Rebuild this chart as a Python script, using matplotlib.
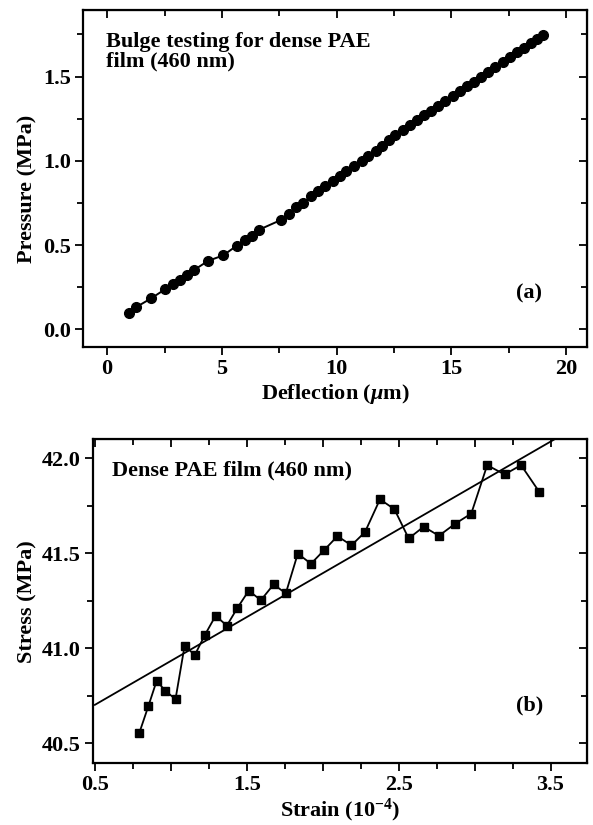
import matplotlib
matplotlib.use("Agg")
import matplotlib.pyplot as plt
from matplotlib.ticker import MultipleLocator, FuncFormatter

# Panel (a): bulge test, deflection (um) vs pressure (MPa)
deflection = [0.94, 1.27, 1.91, 2.53, 2.86, 3.18, 3.49, 3.80, 4.40, 5.05,
              5.66, 5.99, 6.33, 6.61, 7.58, 7.91, 8.23, 8.55, 8.88, 9.20,
              9.50, 9.82, 10.14, 10.42, 10.76, 11.09, 11.38, 11.70, 11.99, 12.30,
              12.56, 12.88, 13.19, 13.50, 13.80, 14.12, 14.42, 14.74, 15.05, 15.36,
              15.67, 15.98, 16.30, 16.61, 16.92, 17.24, 17.55, 17.86, 18.17, 18.45,
              18.74, 19.01]
pressure = [0.097, 0.133, 0.184, 0.239, 0.269, 0.295, 0.324, 0.354, 0.407, 0.439,
            0.498, 0.528, 0.557, 0.591, 0.650, 0.686, 0.725, 0.753, 0.790, 0.824,
            0.852, 0.883, 0.911, 0.941, 0.970, 1.000, 1.030, 1.059, 1.089, 1.122,
            1.152, 1.184, 1.212, 1.241, 1.270, 1.298, 1.326, 1.356, 1.384, 1.413,
            1.442, 1.470, 1.500, 1.528, 1.557, 1.586, 1.614, 1.644, 1.672, 1.698,
            1.724, 1.749]

# Panel (b): strain (1e-4) vs stress (MPa)
strain = [0.793, 0.853, 0.907, 0.962, 1.031, 1.091, 1.158, 1.225, 1.295, 1.369,
          1.439, 1.513, 1.593, 1.677, 1.757, 1.836, 1.923, 2.010, 2.097, 2.189,
          2.278, 2.377, 2.472, 2.566, 2.665, 2.765, 2.869, 2.978, 3.083, 3.197,
          3.306, 3.425]
stress = [40.555, 40.697, 40.829, 40.777, 40.732, 41.014, 40.964, 41.071, 41.171, 41.119,
          41.213, 41.303, 41.253, 41.336, 41.289, 41.498, 41.445, 41.517, 41.590, 41.542,
          41.611, 41.784, 41.732, 41.578, 41.640, 41.592, 41.654, 41.709, 41.964, 41.915,
          41.964, 41.824]
fit_slope = 0.462
fit_intercept = 40.471
fit_range = [0.5, 3.6]

serif = "Liberation Serif"
plt.rcParams["font.family"] = serif
plt.rcParams["font.weight"] = "bold"
plt.rcParams["mathtext.fontset"] = "custom"
plt.rcParams["mathtext.rm"] = "Liberation Serif:bold"
plt.rcParams["mathtext.it"] = "Liberation Serif:italic:bold"
plt.rcParams["mathtext.bf"] = "Liberation Serif:bold"

FS = 16


def style_axes(ax, xmaj, xmin, ymaj, ymin, xfmt=None):
	for sp in ax.spines.values():
		sp.set_linewidth(1.6)
	ax.xaxis.set_major_locator(MultipleLocator(xmaj))
	ax.xaxis.set_minor_locator(MultipleLocator(xmin))
	ax.yaxis.set_major_locator(MultipleLocator(ymaj))
	ax.yaxis.set_minor_locator(MultipleLocator(ymin))
	if xfmt is not None:
		ax.xaxis.set_major_formatter(xfmt)
	ax.tick_params(which="both", direction="out", top=False, right=False,
	               labelsize=FS, width=1.3, pad=3)
	ax.tick_params(which="major", length=6)
	ax.tick_params(which="minor", length=4)
	# mirrored ticks pointing inwards on top and right
	top = ax.secondary_xaxis("top")
	top.xaxis.set_major_locator(MultipleLocator(xmaj))
	top.xaxis.set_minor_locator(MultipleLocator(xmin))
	top.tick_params(which="both", direction="in", labeltop=False, width=1.3)
	top.tick_params(which="major", length=6)
	top.tick_params(which="minor", length=4)
	right = ax.secondary_yaxis("right")
	right.yaxis.set_major_locator(MultipleLocator(ymaj))
	right.yaxis.set_minor_locator(MultipleLocator(ymin))
	right.tick_params(which="both", direction="in", labelright=False, width=1.3)
	right.tick_params(which="major", length=6)
	right.tick_params(which="minor", length=4)
	for t in ax.get_xticklabels() + ax.get_yticklabels():
		t.set_fontweight("bold")


fig = plt.figure(figsize=(5.93, 8.25), dpi=100)

# (a)
ax1 = fig.add_axes([0.1405, 0.5794, 0.849, 0.4085])
ax1.plot(deflection, pressure, "-o", color="black", lw=1.4, ms=7)
ax1.set_xlim(-1.04, 20.9)
ax1.set_ylim(-0.104, 1.895)
style_axes(ax1, 5, 2.5, 0.5, 0.25)
ax1.set_xlabel("Deflection ($\\mu$m)", fontsize=FS, fontweight="bold")
ax1.set_ylabel("Pressure (MPa)", fontsize=FS, fontweight="bold")
ax1.xaxis.set_label_coords(0.5, -0.105)
ax1.yaxis.set_label_coords(-0.092, 0.47)
ax1.text(0.046, 0.935, "Bulge testing for dense PAE\nfilm (460 nm)", transform=ax1.transAxes,
         fontsize=FS, fontweight="bold", va="top", ha="left", linespacing=1.0)
ax1.text(0.886, 0.16, "(a)", transform=ax1.transAxes, fontsize=FS, fontweight="bold",
         ha="center", va="center")

# (b)
ax2 = fig.add_axes([0.1574, 0.0752, 0.8325, 0.3923])
ax2.plot(strain, stress, "-s", color="black", lw=1.3, ms=6.4)
fit_y = [fit_intercept + fit_slope * v for v in fit_range]
ax2.plot(fit_range, fit_y, "-", color="black", lw=1.3)
ax2.set_xlim(0.49, 3.74)
ax2.set_ylim(40.396, 42.10)
label_half = FuncFormatter(lambda v, p: f"{v:.1f}" if abs(v - round(v)) > 0.1 else "")
style_axes(ax2, 0.5, 0.25, 0.5, 0.25, xfmt=label_half)
ax2.set_xlabel("Strain (10$^{-4}$)", fontsize=FS, fontweight="bold")
ax2.set_ylabel("Stress (MPa)", fontsize=FS, fontweight="bold")
ax2.xaxis.set_label_coords(0.5, -0.105)
ax2.yaxis.set_label_coords(-0.114, 0.5)
ax2.text(0.037, 0.935, "Dense PAE film (460 nm)", transform=ax2.transAxes,
         fontsize=FS, fontweight="bold", va="top", ha="left")
ax2.text(0.884, 0.178, "(b)", transform=ax2.transAxes, fontsize=FS, fontweight="bold",
         ha="center", va="center")

fig.savefig("out.png", dpi=100)
